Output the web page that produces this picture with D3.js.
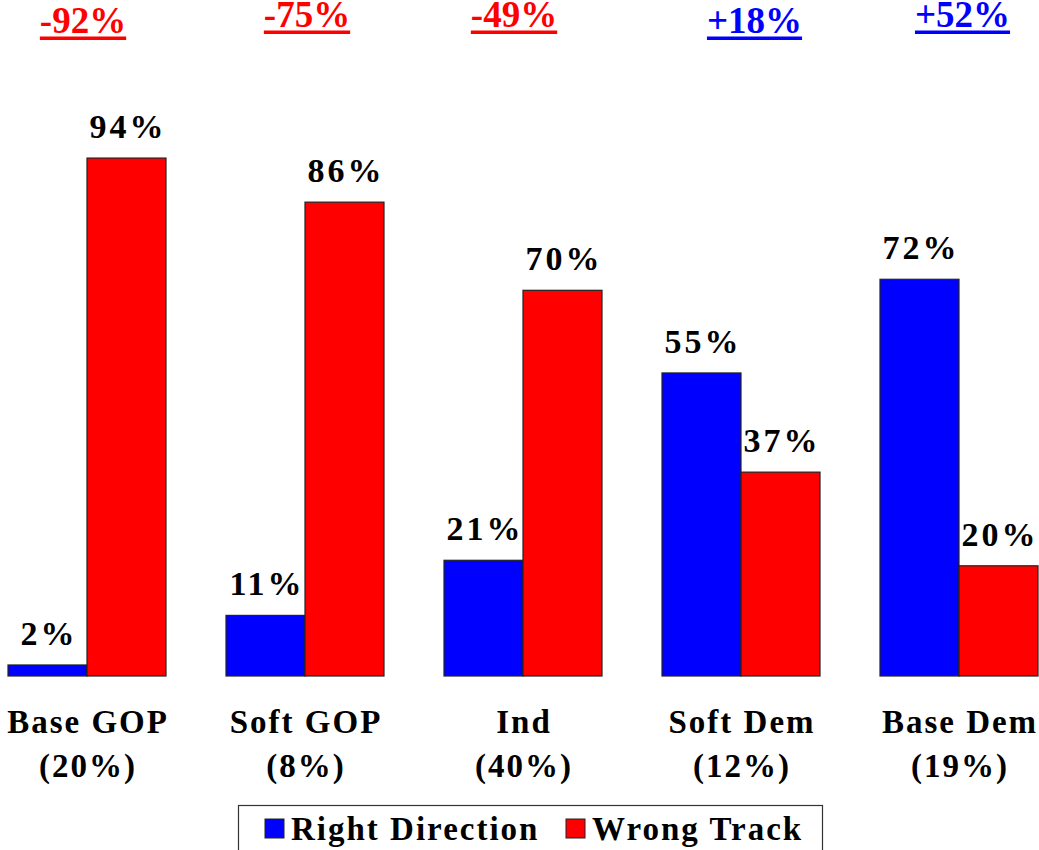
<!DOCTYPE html>
<html>
<head>
<meta charset="utf-8">
<script src="https://cdn.jsdelivr.net/npm/d3@7"></script>
<style>
  body { margin: 0; background: #fff; }
</style>
</head>
<body>
<svg id="chart" width="1039" height="850"></svg>
<script>
// data
var categories = ["Base GOP", "Soft GOP", "Ind", "Soft Dem", "Base Dem"];
var shares = ["(20%)", "(8%)", "(40%)", "(12%)", "(19%)"];
var rightDirection = [2, 11, 21, 55, 72];
var wrongTrack = [94, 86, 70, 37, 20];
var netLabels = ["-92%", "-75%", "-49%", "+18%", "+52%"];
var seriesNames = ["Right Direction", "Wrong Track"];

var BLUE = "#0000ff", RED = "#ff0000";
var FONT = "'Liberation Serif', 'Times New Roman', serif";
var svg = d3.select("#chart");

var x = d3.scaleBand().domain(categories).range([-22, 1068]).paddingInner(0).paddingOuter(0);
var y = d3.scaleLinear().domain([0, 100]).range([676, 125]);
var barW = 79;

function txt(sel) {
  return sel.append("text")
    .style("font-family", FONT)
    .style("font-weight", "bold");
}

var groups = svg.selectAll("g.grp")
  .data(categories)
  .enter().append("g")
  .attr("class", "grp")
  .attr("transform", function (d) { return "translate(" + (x(d) + x.bandwidth() / 2) + ",0)"; });

function addBars(values, color, offset) {
  groups.append("rect")
    .attr("x", offset)
    .attr("y", function (d, i) { return y(values[i]); })
    .attr("width", barW)
    .attr("height", function (d, i) { return y(0) - y(values[i]); })
    .attr("fill", color)
    .attr("stroke", "#222")
    .attr("stroke-width", 1.2);
  txt(groups)
    .attr("x", offset + barW / 2 + 1.5)
    .attr("y", function (d, i) { return y(values[i]) - 20; })
    .attr("text-anchor", "middle")
    .style("font-size", "34px")
    .style("letter-spacing", "3px")
    .text(function (d, i) { return values[i] + "%"; });
}
addBars(rightDirection, BLUE, -barW);
addBars(wrongTrack, RED, 0);

// category labels
txt(groups)
  .attr("x", 1)
  .attr("y", 733)
  .attr("text-anchor", "middle")
  .style("font-size", "33px")
  .style("letter-spacing", "2px")
  .text(function (d) { return d; });
txt(groups)
  .attr("x", 1)
  .attr("y", 777)
  .attr("text-anchor", "middle")
  .style("font-size", "33px")
  .style("letter-spacing", "2px")
  .text(function (d, i) { return shares[i]; });

// net difference labels on top, underlined
var netY = [33, 27, 27, 33, 27];
var netDx = [-4, 2, -9, 13.5, 3.5];
groups.each(function (d, i) {
  var g = d3.select(this);
  var col = netLabels[i].charAt(0) == "-" ? RED : BLUE;
  var t = txt(g)
    .attr("x", netDx[i])
    .attr("y", netY[i])
    .attr("text-anchor", "middle")
    .style("font-size", "37px")
    .attr("fill", col)
    .text(netLabels[i]);
  var bb = t.node().getBBox();
  g.append("rect")
    .attr("x", bb.x)
    .attr("y", netY[i] + 3.5)
    .attr("width", bb.width)
    .attr("height", 3.5)
    .attr("fill", col);
});

// legend
var legend = svg.append("g");
legend.append("rect")
  .attr("x", 238.5).attr("y", 805.5)
  .attr("width", 584).attr("height", 60)
  .attr("fill", "#fff").attr("stroke", "#333").attr("stroke-width", 1.2);
var legX = [265, 566];
seriesNames.forEach(function (name, i) {
  legend.append("rect")
    .attr("x", legX[i]).attr("y", 819)
    .attr("width", 19).attr("height", 19)
    .attr("fill", i == 0 ? BLUE : RED)
    .attr("stroke", "#222").attr("stroke-width", 1);
  txt(legend)
    .attr("x", legX[i] + 26).attr("y", 840)
    .style("font-size", "33px")
    .style("letter-spacing", "2px")
    .text(name);
});
</script>
</body>
</html>
